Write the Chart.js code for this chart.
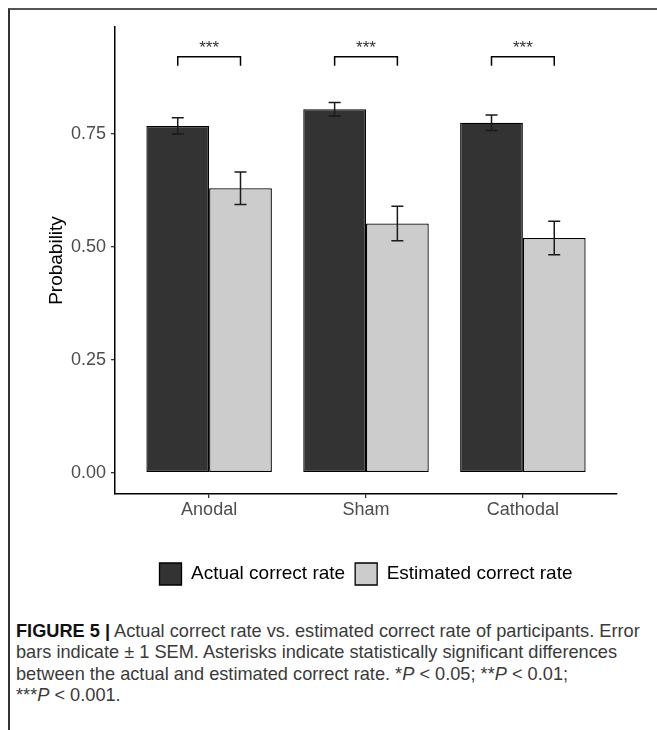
<!DOCTYPE html>
<html>
<head>
<meta charset="utf-8">
<script src="https://cdn.jsdelivr.net/npm/chart.js@4"></script>
<style>
  html, body { margin: 0; padding: 0; background: #fff; }
  body { width: 657px; height: 730px; position: relative; overflow: hidden; font-family: 'Liberation Sans', Arial, sans-serif; }
  #frame { position: absolute; left: 8px; top: 8px; width: 660px; height: 740px; border-top: 2px solid #555; border-left: 2px solid #333; }
  #chart { position: absolute; left: 0; top: 0; }
  #caption { position: absolute; left: 16px; top: 621px; width: 640px; font-size: 18.2px; line-height: 21.3px; color: #3a3a3a; white-space: nowrap; }
  #caption b { color: #111; }
</style>
</head>
<body>
<div id="frame"></div>
<canvas id="chart" width="657" height="600"></canvas>
<div id="caption"><b>FIGURE 5 |</b> Actual correct rate vs. estimated correct rate of participants. Error<br>bars indicate ± 1 SEM. Asterisks indicate statistically significant differences<br>between the actual and estimated correct rate. *<i>P</i> &lt; 0.05; **<i>P</i> &lt; 0.01;<br>***<i>P</i> &lt; 0.001.</div>
<script>
// ─── data ──────────────────────────
const categories = ['Anodal', 'Sham', 'Cathodal'];
const actualRate = [0.768, 0.805, 0.775];
const actualSem = [0.018, 0.015, 0.017];
const estimatedRate = [0.630, 0.552, 0.520];
const estimatedSem = [0.036, 0.038, 0.037];
const sigLabels = ['***', '***', '***'];
const bracketLevel = [0.921, 0.921, 0.921];
const yTicks = [0, 0.25, 0.5, 0.75];

const FONT = "'Liberation Sans', Arial, sans-serif";

// error bars + significance brackets
const annotate = {
    id: 'annotate',
    afterDatasetsDraw(chart) {
        const { ctx } = chart;
        const y = chart.scales.y;
        const sems = [actualSem, estimatedSem];
        ctx.save();
        ctx.strokeStyle = '#1a1a1a';
        ctx.lineWidth = 1.5;
        chart.data.datasets.forEach((ds, di) => {
            chart.getDatasetMeta(di).data.forEach((bar, i) => {
                const v = ds.data[i].y, e = sems[di][i];
                const top = y.getPixelForValue(v + e), bot = y.getPixelForValue(v - e);
                ctx.beginPath();
                ctx.moveTo(bar.x, top); ctx.lineTo(bar.x, bot);
                ctx.moveTo(bar.x - 6, top); ctx.lineTo(bar.x + 6, top);
                ctx.moveTo(bar.x - 6, bot); ctx.lineTo(bar.x + 6, bot);
                ctx.stroke();
            });
        });

        const a = chart.getDatasetMeta(0).data, b = chart.getDatasetMeta(1).data;
        ctx.strokeStyle = '#000';
        ctx.fillStyle = '#333';
        ctx.font = '17px ' + FONT;
        ctx.textAlign = 'center';
        ctx.textBaseline = 'middle';
        categories.forEach((c, i) => {
            const yb = y.getPixelForValue(bracketLevel[i]);
            const yl = y.getPixelForValue(bracketLevel[i] - 0.02);
            ctx.beginPath();
            ctx.moveTo(a[i].x, yl); ctx.lineTo(a[i].x, yb);
            ctx.lineTo(b[i].x, yb); ctx.lineTo(b[i].x, yl);
            ctx.stroke();
            ctx.fillText(sigLabels[i], (a[i].x + b[i].x) / 2, y.getPixelForValue(bracketLevel[i] + 0.019));
        });
        ctx.restore();
    }
};

new Chart(document.getElementById('chart'), {
    type: 'bar',
    data: {
        datasets: [
            {
                label: 'Actual correct rate',
                data: actualRate.map((v, i) => ({ x: i, y: v })),
                backgroundColor: '#333333',
                borderColor: '#000',
                borderWidth: 1.3,
                borderSkipped: false
            },
            {
                label: 'Estimated correct rate',
                data: estimatedRate.map((v, i) => ({ x: i, y: v })),
                backgroundColor: '#cccccc',
                borderColor: '#000',
                borderWidth: 1.3,
                borderSkipped: false
            }
        ]
    },
    options: {
        responsive: false,
        animation: false,
        categoryPercentage: 0.8,
        barPercentage: 1.0,
        layout: { padding: { left: 30, right: 40, top: 27, bottom: 5 } },
        plugins: {
            legend: {
                position: 'bottom',
                fullSize: false,
                labels: {
                    boxWidth: 22,
                    boxHeight: 22,
                    padding: 10,
                    color: '#000',
                    font: { size: 19, family: FONT }
                }
            },
            tooltip: { enabled: false }
        },
        scales: {
            x: {
                type: 'linear',
                min: -0.6,
                max: 2.6,
                offset: false,
                afterBuildTicks: s => { s.ticks = categories.map((c, i) => ({ value: i })); },
                afterFit: s => { s.height = 59; },
                ticks: {
                    color: '#4d4d4d',
                    padding: 1,
                    font: { size: 18, family: FONT },
                    callback: v => categories[v]
                },
                grid: { display: true, drawOnChartArea: false, drawTicks: true, tickLength: 4, color: '#333', lineWidth: 1.3, offset: false },
                border: { display: true, color: '#000', width: 1.5 }
            },
            y: {
                min: -0.047,
                max: 0.987,
                afterBuildTicks: s => { s.ticks = yTicks.map(v => ({ value: v })); },
                afterFit: s => { s.width = 85; },
                ticks: {
                    color: '#4d4d4d',
                    padding: 5,
                    font: { size: 18, family: FONT },
                    callback: v => v.toFixed(2)
                },
                title: {
                    display: true,
                    text: 'Probability',
                    color: '#000',
                    padding: { top: 15, bottom: 0 },
                    font: { size: 19, family: FONT }
                },
                grid: { display: true, drawOnChartArea: false, drawTicks: true, tickLength: 4, color: '#333', lineWidth: 1.3 },
                border: { display: true, color: '#000', width: 1.5 }
            }
        }
    },
    plugins: [annotate]
});
</script>
</body>
</html>
